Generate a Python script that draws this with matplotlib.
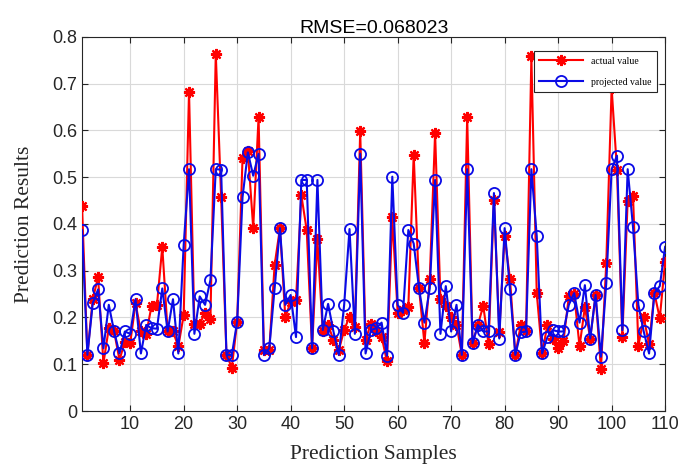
import numpy as np
import matplotlib.pyplot as plt

# ── Data ─────────────────────────────────────────────────────────────────────
actual_value = [
    0.438, 0.120, 0.239, 0.286, 0.102, 0.177, 0.170, 0.109, 0.148, 0.145,
    0.230, 0.170, 0.165, 0.225, 0.226, 0.351, 0.170, 0.170, 0.138, 0.205,
    0.683, 0.187, 0.187, 0.209, 0.196, 0.764, 0.458, 0.120, 0.093, 0.191,
    0.540, 0.555, 0.391, 0.628, 0.130, 0.130, 0.312, 0.391, 0.200, 0.234,
    0.237, 0.461, 0.387, 0.134, 0.367, 0.170, 0.184, 0.152, 0.130, 0.173,
    0.202, 0.180, 0.598, 0.152, 0.187, 0.170, 0.159, 0.106, 0.414, 0.210,
    0.215, 0.223, 0.548, 0.262, 0.145, 0.282, 0.594, 0.239, 0.225, 0.200,
    0.184, 0.120, 0.628, 0.145, 0.184, 0.225, 0.143, 0.452, 0.168, 0.374,
    0.282, 0.120, 0.184, 0.170, 0.758, 0.252, 0.123, 0.184, 0.155, 0.134,
    0.150, 0.245, 0.250, 0.138, 0.222, 0.155, 0.248, 0.089, 0.316, 0.690,
    0.516, 0.158, 0.450, 0.460, 0.139, 0.200, 0.143, 0.252, 0.198, 0.319,
]
projected_value = [
    0.387, 0.120, 0.230, 0.260, 0.134, 0.227, 0.170, 0.123, 0.170, 0.165,
    0.239, 0.123, 0.184, 0.177, 0.176, 0.262, 0.170, 0.239, 0.123, 0.355,
    0.517, 0.165, 0.245, 0.227, 0.280, 0.517, 0.516, 0.120, 0.120, 0.191,
    0.457, 0.553, 0.503, 0.550, 0.120, 0.134, 0.262, 0.391, 0.227, 0.248,
    0.158, 0.494, 0.494, 0.134, 0.494, 0.173, 0.229, 0.170, 0.120, 0.227,
    0.389, 0.165, 0.550, 0.123, 0.173, 0.177, 0.189, 0.118, 0.501, 0.227,
    0.210, 0.387, 0.358, 0.262, 0.189, 0.262, 0.494, 0.165, 0.267, 0.170,
    0.227, 0.120, 0.517, 0.145, 0.184, 0.170, 0.170, 0.466, 0.155, 0.391,
    0.260, 0.120, 0.168, 0.170, 0.517, 0.374, 0.123, 0.158, 0.173, 0.170,
    0.170, 0.227, 0.252, 0.189, 0.269, 0.155, 0.248, 0.116, 0.273, 0.517,
    0.546, 0.173, 0.517, 0.393, 0.227, 0.170, 0.123, 0.252, 0.267, 0.351,
]
samples = np.arange(1, len(actual_value) + 1)
x_ticks = list(range(10, 111, 10))
y_ticks = [0, 0.1, 0.2, 0.3, 0.4, 0.5, 0.6, 0.7, 0.8]

# ── Figure ───────────────────────────────────────────────────────────────────
fig = plt.figure(figsize=(6.78, 4.66), dpi=100)
ax = fig.add_axes([0.121, 0.118, 0.860, 0.803])

# MATLAB-style asterisk for the actual values, open circles for predictions
ax.plot(samples, actual_value, color="red", lw=1.5, marker=(8, 2, 0),
        markersize=8, markeredgewidth=1.6, label="actual value", zorder=3)
ax.plot(samples, projected_value, color="#0a0ae6", lw=1.5, marker="o",
        markersize=8, markerfacecolor="none", markeredgewidth=1.3,
        label="projected value", zorder=4)

ax.set_xlim(1, 110)
ax.set_ylim(0, 0.8)
ax.set_xticks(x_ticks)
ax.set_yticks(y_ticks)
ax.set_yticklabels(["0"] + [f"{v:.1f}" for v in y_ticks[1:]])
ax.tick_params(direction="in", top=True, right=True, labelsize=13,
               colors="#262626", length=4)
for lbl in ax.get_xticklabels() + ax.get_yticklabels():
    lbl.set_family("Liberation Sans")
ax.grid(True, color="#d9d9d9", lw=0.8)
ax.set_axisbelow(True)
for sp in ax.spines.values():
    sp.set_color("#262626")
    sp.set_linewidth(0.8)

ax.set_title("RMSE=0.068023", fontsize=14, family="Liberation Sans", pad=3)
ax.set_xlabel("Prediction Samples", fontsize=15.5, family="Liberation Serif",
              labelpad=9, color="#262626")
ax.set_ylabel("Prediction Results", fontsize=15.5, family="Liberation Serif",
              labelpad=13, color="#262626")

leg = ax.legend(loc="upper right", bbox_to_anchor=(0.995, 0.975),
                prop={"family": "Liberation Serif", "size": 7},
                fancybox=False, framealpha=1, edgecolor="#262626",
                handlelength=4.5, borderpad=0.6, labelspacing=1.2)
leg.get_frame().set_linewidth(0.8)

plt.savefig("out.png", dpi=100)
plt.close(fig)
